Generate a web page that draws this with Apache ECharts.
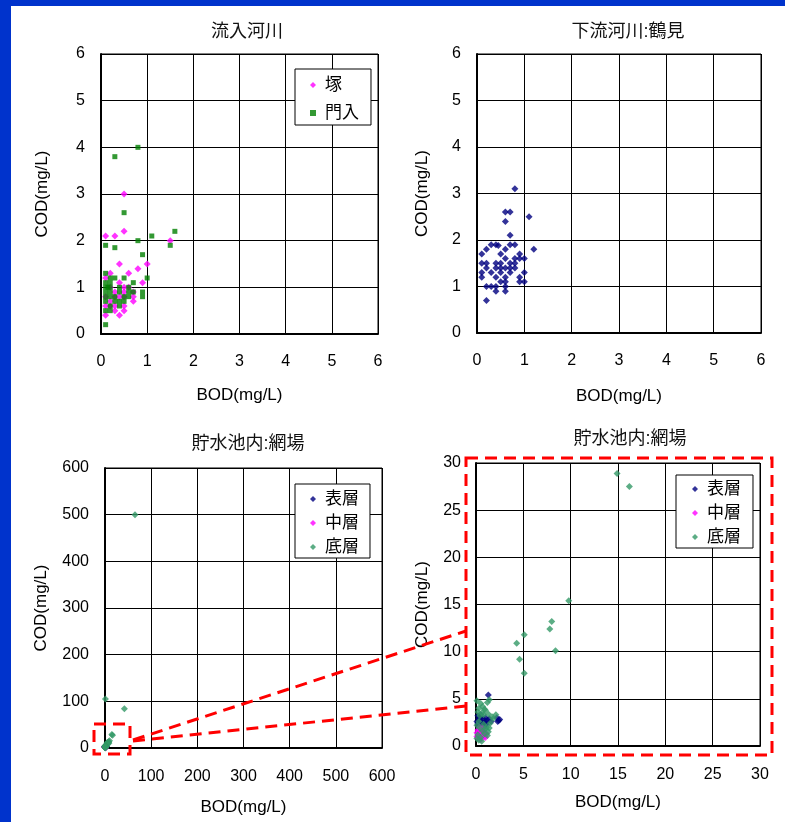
<!DOCTYPE html>
<html>
<head>
<meta charset="utf-8">
<script src="https://cdn.jsdelivr.net/npm/echarts@6/dist/echarts.min.js"></script>
<style>
body { margin: 0; background: #fff; }
#main { width: 785px; height: 822px; }
</style>
</head>
<body>
<div id="main"></div>
<script>
// 流入河川 : 塚
var tsukaBOD = [0.5, 0.1, 0.3, 0.5, 1.5, 0.4, 1.0, 0.8, 0.6, 0.2, 0.1, 0.9, 0.4, 0.7, 0.7, 0.7, 0.5, 0.5, 0.5, 0.3, 0.4, 0.2, 0.2, 0.3, 0.5, 0.1, 0.3, 0.5, 0.1, 0.4, 0.2, 0.3, 0.1, 0.6];
var tsukaCOD = [3.0, 2.1, 2.1, 2.2, 2.0, 1.5, 1.5, 1.4, 1.3, 1.3, 1.2, 1.1, 1.1, 0.9, 0.8, 0.7, 1.0, 0.9, 0.8, 0.8, 0.8, 0.7, 0.6, 0.6, 0.6, 0.6, 0.5, 0.5, 0.4, 0.4, 1.0, 0.9, 0.8, 1.0];
// 流入河川 : 門入
var monnyuBOD = [0.8, 0.3, 0.5, 1.6, 1.1, 0.8, 0.1, 0.3, 1.5, 0.9, 1.0, 0.1, 0.2, 0.3, 0.5, 0.1, 0.2, 0.7, 0.1, 0.2, 0.4, 0.6, 0.1, 0.2, 0.4, 0.6, 0.7, 0.9, 0.1, 0.2, 0.3, 0.5, 0.6, 0.9, 0.1, 0.3, 0.4, 0.5, 0.2, 0.4, 0.1, 0.2, 0.1, 0.15];
var monnyuCOD = [4.0, 3.8, 2.6, 2.2, 2.1, 2.0, 1.9, 1.85, 1.9, 1.7, 1.2, 1.3, 1.2, 1.2, 1.2, 1.1, 1.1, 1.1, 1.0, 1.0, 1.0, 1.0, 0.9, 0.9, 0.9, 0.9, 0.9, 0.9, 0.8, 0.8, 0.8, 0.8, 0.8, 0.8, 0.7, 0.7, 0.7, 0.7, 0.6, 0.6, 0.5, 0.5, 0.2, 1.0];
// 下流河川 : 鶴見
var tsurumiBOD = [0.8, 0.6, 0.7, 0.6, 1.1, 0.7, 0.7, 0.8, 0.3, 0.4, 0.45, 0.2, 0.6, 1.2, 0.1, 0.5, 0.9, 1.0, 0.9, 0.8, 0.6, 0.1, 0.2, 0.4, 0.5, 0.7, 0.8, 0.2, 0.4, 0.5, 0.6, 0.7, 0.8, 0.1, 0.3, 0.5, 0.7, 1.0, 0.1, 0.4, 0.6, 0.9, 0.5, 0.6, 0.9, 1.0, 0.2, 0.3, 0.4, 0.6, 0.4, 0.6, 0.2];
var tsurumiCOD = [3.1, 2.6, 2.6, 2.4, 2.5, 2.1, 1.9, 1.9, 1.9, 1.9, 1.88, 1.8, 1.8, 1.8, 1.7, 1.7, 1.7, 1.6, 1.6, 1.6, 1.6, 1.5, 1.5, 1.5, 1.5, 1.5, 1.5, 1.4, 1.4, 1.4, 1.4, 1.4, 1.4, 1.3, 1.3, 1.3, 1.3, 1.3, 1.2, 1.2, 1.2, 1.2, 1.1, 1.1, 1.1, 1.1, 1.0, 1.0, 1.0, 1.0, 0.9, 0.9, 0.7];
// 貯水池内 : 網場 表層
var hyosoBOD = [1.3, 2.4, 2.5, 2.2, 2.3, 0.3, 0.5, 0.8, 1.0, 0.2, 0.6, 0.9, 1.2, 0.4, 0.7, 1.1, 0.1, 0.5, 1.4, 0.8, 0.3, 1.6, 0.6, 1.0, 0.2];
var hyosoCOD = [5.4, 2.7, 2.8, 3.0, 2.6, 2.9, 2.6, 2.8, 3.0, 2.4, 2.2, 2.5, 2.7, 3.1, 2.4, 2.3, 2.6, 3.3, 2.9, 2.0, 2.1, 2.6, 3.0, 2.6, 3.2];
// 貯水池内 : 網場 中層
var chusoBOD = [0.1, 0.2, 0.3, 0.4, 0.5, 0.6, 0.7, 0.8, 0.9, 1.0, 0.3, 0.2, 0.5, 0.4, 0.1, 0.6, 0.7, 1.1, 0.2, 0.8];
var chusoCOD = [1.0, 1.3, 1.5, 1.1, 1.8, 1.4, 1.2, 1.6, 1.0, 0.9, 0.8, 1.7, 0.7, 2.0, 1.4, 1.1, 1.9, 1.3, 0.9, 1.2];
// 貯水池内 : 網場 底層
var teisoBOD = [65, 1, 42, 14.9, 16.2, 9.8, 8.0, 7.8, 5.1, 4.3, 8.4, 4.6, 5.1, 0.1, 1.4, 0.5, 1.2, 0.3, 0.7, 1.0, 0.2, 0.6, 0.9, 1.3, 2.1, 1.7, 0.4, 0.8, 1.5, 1.8, 0.1, 0.4, 0.7, 1.0, 1.3, 0.2, 0.5, 0.9, 1.2, 0.3, 0.6, 0.1, 1.4, 0.8, 1.1, 0.3];
var teisoCOD = [500, 105, 84, 28.9, 27.5, 15.4, 13.2, 12.4, 11.8, 10.9, 10.1, 9.2, 7.7, 4.8, 4.9, 4.5, 4.6, 4.0, 4.2, 3.8, 3.6, 3.5, 3.9, 3.4, 3.3, 3.1, 3.2, 3.3, 2.4, 2.9, 2.2, 1.9, 1.6, 1.8, 1.5, 1.2, 0.9, 1.3, 1.1, 0.6, 0.5, 0.8, 1.9, 2.3, 2.0, 2.6];

var FONT = "'Liberation Sans', 'Noto Sans CJK JP', sans-serif";

function pairs(xs, ys) {
    var out = [];
    for (var i = 0; i < xs.length; i++) out.push([xs[i], ys[i]]);
    return out;
}

function xAxisFor(idx, max, interval, margin, gap) {
    return {
        gridIndex: idx, type: 'value', min: 0, max: max, interval: interval,
        name: 'BOD(mg/L)', nameLocation: 'middle', nameGap: gap,
        nameTextStyle: { fontFamily: FONT, fontSize: 17, color: '#000' },
        axisLine: { lineStyle: { color: '#000', width: 2 } },
        axisTick: { show: false },
        axisLabel: { margin: margin, fontFamily: FONT, fontSize: 16, color: '#000' },
        splitLine: { lineStyle: { color: '#000', width: 1 } }
    };
}

function yAxisFor(idx, max, interval, margin, gap) {
    return {
        gridIndex: idx, type: 'value', min: 0, max: max, interval: interval,
        name: 'COD(mg/L)', nameLocation: 'middle', nameGap: gap,
        nameTextStyle: { fontFamily: FONT, fontSize: 17, color: '#000' },
        axisLine: { lineStyle: { color: '#000', width: 2 } },
        axisTick: { show: false },
        axisLabel: { margin: margin, fontFamily: FONT, fontSize: 16, color: '#000' },
        splitLine: { lineStyle: { color: '#000', width: 1 } }
    };
}

function titleFor(text, cx, top) {
    return {
        text: text, left: cx, top: top, textAlign: 'center', padding: 0,
        textStyle: { fontFamily: FONT, fontSize: 18, fontWeight: 'normal', color: '#111' }
    };
}

function legendFor(names, left, top, gap, padding) {
    return {
        data: names, orient: 'vertical', left: left, top: top,
        itemWidth: 6, itemHeight: 6, itemGap: gap, padding: padding,
        borderColor: '#000', borderWidth: 1, backgroundColor: '#fff',
        selectedMode: false,
        textStyle: { fontFamily: FONT, fontSize: 17, color: '#000', lineHeight: 18, padding: [0, 0, 0, 4] }
    };
}

function scatter(name, data, xi, color, symbol, size) {
    return {
        type: 'scatter', name: name, data: data, xAxisIndex: xi, yAxisIndex: xi,
        symbol: symbol, symbolSize: size, clip: true,
        itemStyle: { color: color }
    };
}

var grids = [
    { left: 101, top: 54, width: 277, height: 280 },
    { left: 477, top: 54, width: 284, height: 279 },
    { left: 105, top: 468, width: 277, height: 280 },
    { left: 476, top: 463, width: 284, height: 283 }
];
grids.forEach(function (g) { g.show = true; g.borderColor = '#000'; g.borderWidth = 1; g.backgroundColor = '#fff'; });

var dash = { fill: null, stroke: '#ff0000', lineWidth: 3, lineDash: [12, 7] };

var option = {
    backgroundColor: '#fff',
    animation: false,
    title: [
        titleFor('流入河川', 247, 23),
        titleFor('下流河川:鶴見', 628, 23),
        titleFor('貯水池内:網場', 248, 435),
        titleFor('貯水池内:網場', 630, 430)
    ],
    legend: [
        legendFor(['塚', '門入'], 295, 69, 10, [7, 12, 3, 15]),
        legendFor(['表層', '中層', '底層'], 295, 484, 6, [6, 11, 2, 15]),
        legendFor(['表層', '中層', '底層'], 676, 475, 6, [5, 12, 2, 16])
    ],
    grid: grids,
    xAxis: [
        xAxisFor(0, 6, 1, 20, 53),
        xAxisFor(1, 6, 1, 20, 55),
        xAxisFor(2, 600, 100, 21, 51),
        xAxisFor(3, 30, 5, 21, 48)
    ],
    yAxis: [
        yAxisFor(0, 6, 1, 16, 50),
        yAxisFor(1, 6, 1, 16, 46),
        yAxisFor(2, 600, 100, 16, 55),
        yAxisFor(3, 30, 5, 15, 45)
    ],
    series: [
        scatter('塚', pairs(tsukaBOD, tsukaCOD), 0, '#ff00ff', 'diamond', 7),
        scatter('門入', pairs(monnyuBOD, monnyuCOD), 0, '#008000', 'rect', 5),
        scatter('鶴見', pairs(tsurumiBOD, tsurumiCOD), 1, '#000080', 'diamond', 7),
        scatter('表層', pairs(hyosoBOD, hyosoCOD), 2, '#000080', 'diamond', 7),
        scatter('中層', pairs(chusoBOD, chusoCOD), 2, '#ff00ff', 'diamond', 7),
        scatter('底層', pairs(teisoBOD, teisoCOD), 2, '#339966', 'diamond', 7),
        scatter('表層', pairs(hyosoBOD, hyosoCOD), 3, '#000080', 'diamond', 7),
        scatter('中層', pairs(chusoBOD, chusoCOD), 3, '#ff00ff', 'diamond', 7),
        scatter('底層', pairs(teisoBOD, teisoCOD), 3, '#339966', 'diamond', 7)
    ],
    graphic: [
        { type: 'rect', z: 100, shape: { x: 0, y: 0, width: 785, height: 6 }, style: { fill: '#0033cc' } },
        { type: 'rect', z: 100, shape: { x: 0, y: 0, width: 11, height: 822 }, style: { fill: '#0033cc' } },
        { type: 'rect', z: 100, shape: { x: 94, y: 724, width: 36, height: 30 }, style: dash },
        { type: 'rect', z: 100, shape: { x: 466, y: 458, width: 306, height: 297 }, style: dash },
        { type: 'line', z: 100, shape: { x1: 133, y1: 740, x2: 466, y2: 631 }, style: dash },
        { type: 'line', z: 100, shape: { x1: 133, y1: 741, x2: 466, y2: 706 }, style: dash }
    ]
};

var myChart = echarts.init(document.getElementById('main'));
myChart.setOption(option);
</script>
</body>
</html>
